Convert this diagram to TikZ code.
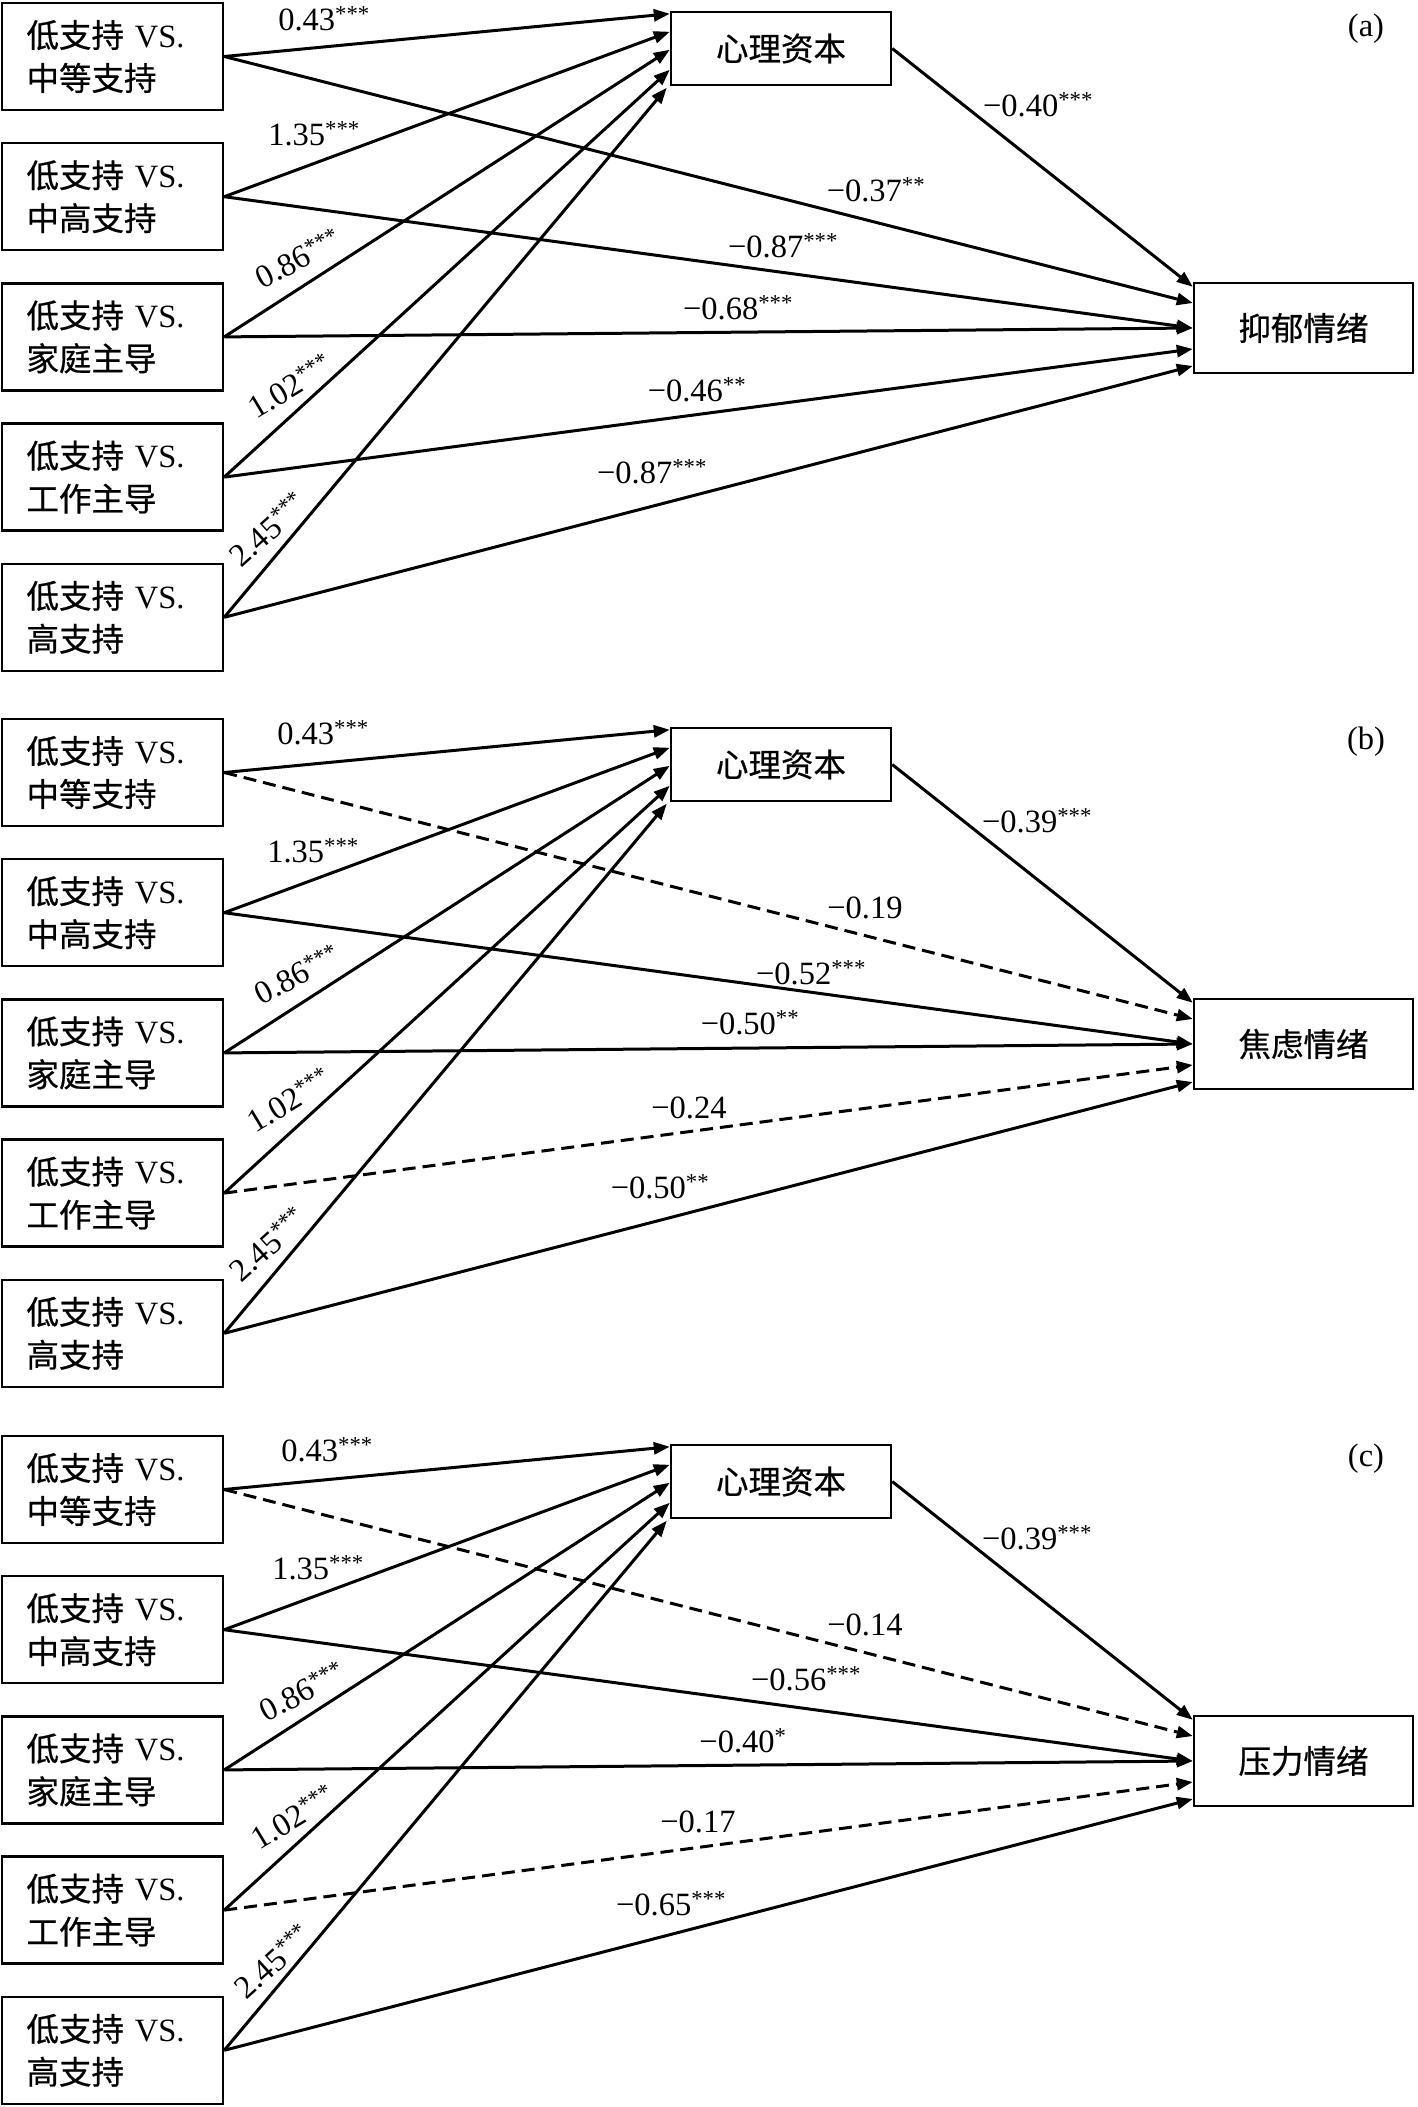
\documentclass[tikz,border=0pt]{standalone}
\usepackage{fontspec}
\setmainfont{Liberation Serif}
\newfontfamily\cjk{Noto Sans CJK SC}[FakeBold=0.6]
\usetikzlibrary{arrows.meta,calc}
\newcommand\myfs{\fontsize{32.5}{43}\selectfont}
\tikzset{
  srcbox/.style={draw, line width=2.5pt, minimum width=221pt, minimum height=107pt,
    text width=172pt, inner xsep=24pt, align=left, font=\myfs},
  midbox/.style={draw, line width=2.5pt, minimum width=220pt, minimum height=73pt, font=\cjk\myfs},
  outbox/.style={draw, line width=2.5pt, minimum width=219pt, minimum height=90pt, font=\cjk\myfs},
  arr/.style={line width=3pt, -{Triangle[length=16pt,width=12pt]}},
  darr/.style={arr, dash pattern=on 13pt off 7pt},
  lab/.style={font=\myfs, inner sep=1pt}
}
\newcommand\mypanel[5]{%
  \begin{scope}[shift={(0,#2)}]
    \foreach \i/\t in {1/中等支持, 2/中高支持, 3/家庭主导, 4/工作主导, 5/高支持} {
      \node[srcbox] (#1s\i) at (112.5, {56.5+140.2*(\i-1)}) {{\cjk 低支持} VS.\\{\cjk \t}};
    }
    \node[midbox] (#1m) at (781,48.5) {心理资本};
    \node[outbox] (#1o) at (1303.5,328) {#3};
    \draw[arr] (#1s1.east) -- ($(#1m.north west)+(0,3)$);
    \draw[arr] (#1s2.east) -- ($(#1m.north west)+(0,21)$);
    \draw[arr] (#1s3.east) -- ($(#1m.north west)+(0,39)$);
    \draw[arr] (#1s4.east) -- ($(#1m.north west)+(0,59)$);
    \draw[arr] (#1s5.east) -- ($(#1m.north west)+(-3,77)$);
    \draw[arr] (#1m.east) -- ($(#1o.north west)+(0,5)$);
    \draw[#4] (#1s1.east) -- ($(#1o.west)+(0,-25)$);
    \draw[arr] (#1s2.east) -- (#1o.west);
    \draw[arr] (#1s3.east) -- (#1o.west);
    \draw[#5] (#1s4.east) -- ($(#1o.west)+(0,21)$);
    \draw[arr] (#1s5.east) -- ($(#1o.west)+(0,38)$);
  \end{scope}}
\begin{document}
\begin{tikzpicture}[x=1pt,y=-1pt]
\useasboundingbox (0,0) rectangle (1417,2107);
% panel (a)
\mypanel{a}{0}{抑郁情绪}{arr}{arr}
\node[lab] (la1) at (324,19) {0.43\textsuperscript{***}};
\node[lab] (la2) at (314,134) {1.35\textsuperscript{***}};
\node[lab,rotate=27] (la3) at (298,258) {0.86\textsuperscript{***}};
\node[lab,rotate=31] (la4) at (290,386) {1.02\textsuperscript{***}};
\node[lab,rotate=42] (la5) at (268,529) {2.45\textsuperscript{***}};
\node[lab] (la6) at (1038,105) {−0.40\textsuperscript{***}};
\node[lab] (la7) at (876,190) {−0.37\textsuperscript{**}};
\node[lab] (la8) at (783,246) {−0.87\textsuperscript{***}};
\node[lab] (la9) at (738,308) {−0.68\textsuperscript{***}};
\node[lab] (la10) at (697,390) {−0.46\textsuperscript{**}};
\node[lab] (la11) at (652,472) {−0.87\textsuperscript{***}};
\node[lab] (pa) at (1366,29) {(a)};
% panel (b)
\mypanel{b}{716}{焦虑情绪}{darr}{darr}
\node[lab] (lb1) at (323,733) {0.43\textsuperscript{***}};
\node[lab] (lb2) at (313,851) {1.35\textsuperscript{***}};
\node[lab,rotate=27] (lb3) at (297,974) {0.86\textsuperscript{***}};
\node[lab,rotate=31] (lb4) at (289,1100) {1.02\textsuperscript{***}};
\node[lab,rotate=42] (lb5) at (268,1244) {2.45\textsuperscript{***}};
\node[lab] (lb6) at (1037,821) {−0.39\textsuperscript{***}};
\node[lab] (lb7) at (865,908) {−0.19};
\node[lab] (lb8) at (811,973) {−0.52\textsuperscript{***}};
\node[lab] (lb9) at (750,1023) {−0.50\textsuperscript{**}};
\node[lab] (lb10) at (689,1108) {−0.24};
\node[lab] (lb11) at (660,1187) {−0.50\textsuperscript{**}};
\node[lab] (pb) at (1366,742) {(b)};
% panel (c)
\mypanel{c}{1433}{压力情绪}{darr}{darr}
\node[lab] (lc1) at (327,1450) {0.43\textsuperscript{***}};
\node[lab] (lc2) at (318,1568) {1.35\textsuperscript{***}};
\node[lab,rotate=27] (lc3) at (302,1691) {0.86\textsuperscript{***}};
\node[lab,rotate=31] (lc4) at (293,1817) {1.02\textsuperscript{***}};
\node[lab,rotate=42] (lc5) at (273,1961) {2.45\textsuperscript{***}};
\node[lab] (lc6) at (1037,1538) {−0.39\textsuperscript{***}};
\node[lab] (lc7) at (865,1625) {−0.14};
\node[lab] (lc8) at (806,1679) {−0.56\textsuperscript{***}};
\node[lab] (lc9) at (743,1741) {−0.40\textsuperscript{*}};
\node[lab] (lc10) at (698,1822) {−0.17};
\node[lab] (lc11) at (671,1904) {−0.65\textsuperscript{***}};
\node[lab] (pc) at (1366,1459) {(c)};
\end{tikzpicture}
\end{document}
